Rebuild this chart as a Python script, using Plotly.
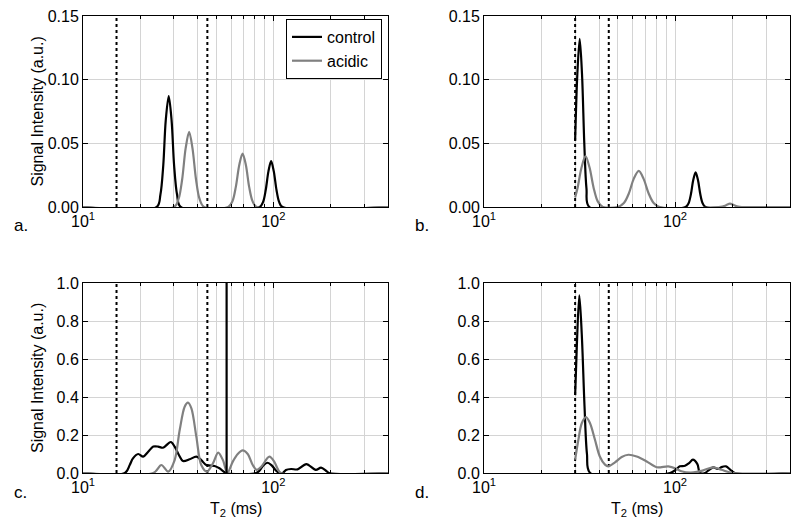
import plotly.graph_objects as go
import math

# ---------------- data ----------------
# Panel a
a_control_T = [10, 24.4, 25.5, 26.4, 27.2, 28.2, 29.2, 30.1, 31.2, 32.6, 84.7, 88.3, 91.2, 94.2, 97.3, 100.5, 103.8, 107.2, 111.7, 400]
a_control = [0, 0, 0.0096, 0.0326, 0.0679, 0.087, 0.0679, 0.0326, 0.0096, 0, 0, 0.004, 0.0135, 0.028, 0.036, 0.028, 0.0135, 0.004, 0, 0]
a_acidic_T = [10, 30.1, 31.8, 33.2, 34.6, 36.1, 37.6, 39.2, 40.9, 43.2, 57.9, 61.0, 63.5, 66.2, 68.9, 71.7, 74.6, 77.7, 81.8, 400]
a_acidic = [0, 0, 0.0065, 0.022, 0.046, 0.059, 0.046, 0.022, 0.0065, 0, 0, 0.0046, 0.0158, 0.033, 0.042, 0.033, 0.0158, 0.0046, 0, 0]
a_bounds = [15, 45]

# Panel b
b_control_T = [30.0, 30.8, 31.7, 32.6, 33.5, 34.4, 35.6, 113.6, 117.8, 121.2, 124.6, 128.2, 131.9, 135.6, 139.5, 144.7, 400]
b_control = [0.052, 0.104, 0.132, 0.104, 0.05, 0.0145, 0, 0, 0.003, 0.0102, 0.0212, 0.0272, 0.0212, 0.0102, 0.003, 0, 0]
b_acidic_T = [30.0, 30.9, 32.4, 34.0, 35.7, 37.5, 39.4, 41.9, 50.1, 54.0, 57.3, 60.8, 64.6, 68.5, 72.8, 77.3, 83.2,
              169, 177, 183, 188, 194, 200.4, 207, 214, 224, 400]
b_acidic = [0.0075, 0.015, 0.031, 0.040, 0.031, 0.015, 0.0044, 0, 0, 0.0031, 0.0106, 0.0221, 0.0283, 0.0221, 0.0106, 0.0031, 0,
            0, 0.0004, 0.001, 0.002, 0.0026, 0.002, 0.001, 0.0003, 0, 0]
b_bounds = [30, 45]

# Panel c
c_control_T = [10, 16.6, 17.6, 18.3, 19.5, 20.7, 22.0, 23.4, 24.8, 26.3, 28.9, 30.3, 31.9, 33.5, 36.3, 39.4, 41.8, 44.4,
               49.1, 52.1, 56.5, 81.1, 84.5, 88.5, 93.3, 98.0, 103.0, 107.4, 112.0, 116.4, 124.0, 134.0, 149.0, 167.0,
               178.0, 189.0, 196.0, 400]
c_control = [0, 0, 0.042, 0.077, 0.10, 0.086, 0.112, 0.139, 0.139, 0.133, 0.163, 0.139, 0.095, 0.063, 0.072, 0.086, 0.068, 0.042,
             0.037, 0.025, 0, 0, 0.012, 0.04, 0.054, 0.04, 0.014, 0, 0, 0.016, 0.021, 0.019, 0.047, 0.016,
             0.028, 0.012, 0, 0]
c_spike_T = [56.8, 56.8]
c_spike = [0, 1.5]
c_acidic_T = [10, 23.4, 25.8, 28.0, 30.3, 32.2, 34.2, 35.6, 37.1, 39.4, 41.8, 44.8, 48.1, 51.3, 54.3, 57.3, 61.2, 65.0,
              69.0, 73.3, 77.9, 81.8, 86.3, 95.3, 101.0, 105.0, 109.6, 400]
c_acidic = [0, 0, 0.042, 0.007, 0.068, 0.226, 0.349, 0.37, 0.34, 0.19, 0.042, 0.007, 0.05, 0.107, 0.068, 0, 0.06, 0.10,
            0.119, 0.10, 0.042, 0.016, 0.033, 0.086, 0.06, 0.025, 0, 0]
c_bounds = [15, 45]

# Panel d
d_control_T = [30.0, 30.6, 31.55, 32.5, 33.6, 34.6, 36.0, 94.2, 101, 106, 112.8, 118.6, 124, 131, 135, 143.6, 151,
               158.6, 168.6, 175, 185, 195, 206, 400]
d_control = [0.41, 0.66, 0.935, 0.73, 0.35, 0.10, 0, 0, 0.0175, 0.035, 0.038, 0.052, 0.07, 0.047, 0, 0, 0.017,
             0.03, 0.021, 0.031, 0.035, 0.017, 0, 0]
d_acidic_T = [30.0, 31.2, 32.5, 34.2, 35.9, 38.1, 40.4, 43.0, 44.8, 48.5, 52.6, 57.0, 63.0, 71.1, 80.2, 92.2, 101, 108,
              125, 140.5, 158.6, 175, 202, 400]
d_acidic = [0.07, 0.175, 0.262, 0.294, 0.262, 0.175, 0.087, 0.044, 0.035, 0.056, 0.084, 0.096, 0.087, 0.061, 0.03, 0.035,
            0.024, 0.009, 0.003, 0.014, 0.03, 0.017, 0, 0]
d_bounds = [30, 45]

series_names = ["control", "acidic"]
panel_letters = ["a.", "b.", "c.", "d."]
y_title = "Signal Intensity (a.u.)"
x_title = "T<sub>2</sub> (ms)"
x_major = [10, 100]
x_major_text = ["10<sup>1</sup>", "10<sup>2</sup>"]
x_minor = [20, 30, 40, 50, 60, 70, 80, 90, 200, 300]
T_max = 400

# ---------------- styling / layout ----------------
W, H = 800, 528
OFF = 8  # page body margin offset
BLACK = "#000000"
GRAY = "#808080"
GRID = "#d4d4d4"
FONT = "Liberation Sans, Arial, sans-serif"

def px(x):
    return (x - OFF) / W

def py(y):
    return 1 - (y - OFF) / H

# panel pixel boxes (in screenshot pixels): left, right, top, bottom
boxes = {
    "a": (83, 388, 16, 207),
    "b": (484, 790, 16, 207),
    "c": (83, 388, 283, 473),
    "d": (484, 790, 283, 473),
}

panels = [
    ("a", a_control_T, a_control, a_acidic_T, a_acidic, a_bounds, 0.15),
    ("b", b_control_T, b_control, b_acidic_T, b_acidic, b_bounds, 0.15),
    ("c", c_control_T, c_control, c_acidic_T, c_acidic, c_bounds, 1.0),
    ("d", d_control_T, d_control, d_acidic_T, d_acidic, d_bounds, 1.0),
]

fig = go.Figure()
layout = dict(
    width=W, height=H, margin=dict(l=0, r=0, t=0, b=0, pad=0, autoexpand=False),
    paper_bgcolor="white", plot_bgcolor="white",
    font=dict(family=FONT, size=16, color=BLACK),
    showlegend=True,
    legend=dict(x=px(382), y=py(19), xanchor="right", yanchor="top",
                bgcolor="white", bordercolor=BLACK, borderwidth=1,
                font=dict(size=16), tracegroupgap=0, itemwidth=30),
)

annotations = []
for i, (key, cT, cV, aT, aV, bounds, ymax) in enumerate(panels):
    n = "" if i == 0 else str(i + 1)
    xa, ya = "x" + n, "y" + n
    l, r, t, b = boxes[key]
    layout["xaxis" + n] = dict(
        type="log", range=[1, math.log10(T_max)], domain=[px(l), px(r)], anchor=ya,
        automargin=False, ticklabeloverflow="allow",
        tickmode="array", tickvals=x_major, ticktext=x_major_text,
        ticks="inside", ticklen=5, tickcolor=BLACK, showline=True, linecolor=BLACK, linewidth=1,
        mirror="ticks", showgrid=True, gridcolor=GRID, gridwidth=1, zeroline=False,
        tickfont=dict(size=16),
        minor=dict(tickmode="array", tickvals=x_minor, ticks="inside", ticklen=3,
                   tickcolor=BLACK, showgrid=True, gridcolor=GRID, gridwidth=1),
    )
    if ymax < 0.5:
        yt = dict(tickvals=[0, 0.05, 0.10, 0.15], tickformat=".2f")
    else:
        yt = dict(tickvals=[0, 0.2, 0.4, 0.6, 0.8, 1.0], tickformat=".1f")
    layout["yaxis" + n] = dict(
        range=[0, ymax], domain=[py(b), py(t)], anchor=xa,
        automargin=False, ticklabeloverflow="allow",
        tickmode="array", **yt,
        ticks="inside", ticklen=5, tickcolor=BLACK, showline=True, linecolor=BLACK, linewidth=1,
        mirror="ticks", showgrid=True, gridcolor=GRID, gridwidth=1, zeroline=False,
        tickfont=dict(size=16),
    )
    # boundary dotted lines
    for bv in bounds:
        fig.add_trace(go.Scatter(x=[bv, bv], y=[0, ymax], mode="lines", xaxis=xa, yaxis=ya,
                                 line=dict(color=BLACK, width=2, dash="dot"),
                                 showlegend=False, hoverinfo="skip"))
    fig.add_trace(go.Scatter(x=cT, y=cV, mode="lines", name=series_names[0], xaxis=xa, yaxis=ya,
                             line=dict(color=BLACK, width=2.2, shape="spline", smoothing=0.9),
                             showlegend=(i == 0), legendrank=1))
    fig.add_trace(go.Scatter(x=aT, y=aV, mode="lines", name=series_names[1], xaxis=xa, yaxis=ya,
                             line=dict(color=GRAY, width=2.2, shape="spline", smoothing=0.9),
                             showlegend=(i == 0), legendrank=2))
    if key == "c":
        fig.add_trace(go.Scatter(x=c_spike_T, y=c_spike, mode="lines", xaxis=xa, yaxis=ya,
                                 line=dict(color=BLACK, width=2.2), showlegend=False, hoverinfo="skip"))
    # panel letter
    annotations.append(dict(text=panel_letters[i], x=px(l - 71), y=py(b + 19),
                            xref="paper", yref="paper", xanchor="left", yanchor="middle",
                            showarrow=False, font=dict(size=17)))
    if key in ("a", "c"):
        annotations.append(dict(text=y_title, x=px(37), y=py((t + b) / 2), textangle=-90,
                                xref="paper", yref="paper", xanchor="center", yanchor="middle",
                                showarrow=False, font=dict(size=16)))
    if key in ("c", "d"):
        annotations.append(dict(text=x_title, x=px((l + r) / 2), y=py(509),
                                xref="paper", yref="paper", xanchor="center", yanchor="middle",
                                showarrow=False, font=dict(size=16)))

layout["annotations"] = annotations
fig.update_layout(**layout)
fig.write_html("out.html")
